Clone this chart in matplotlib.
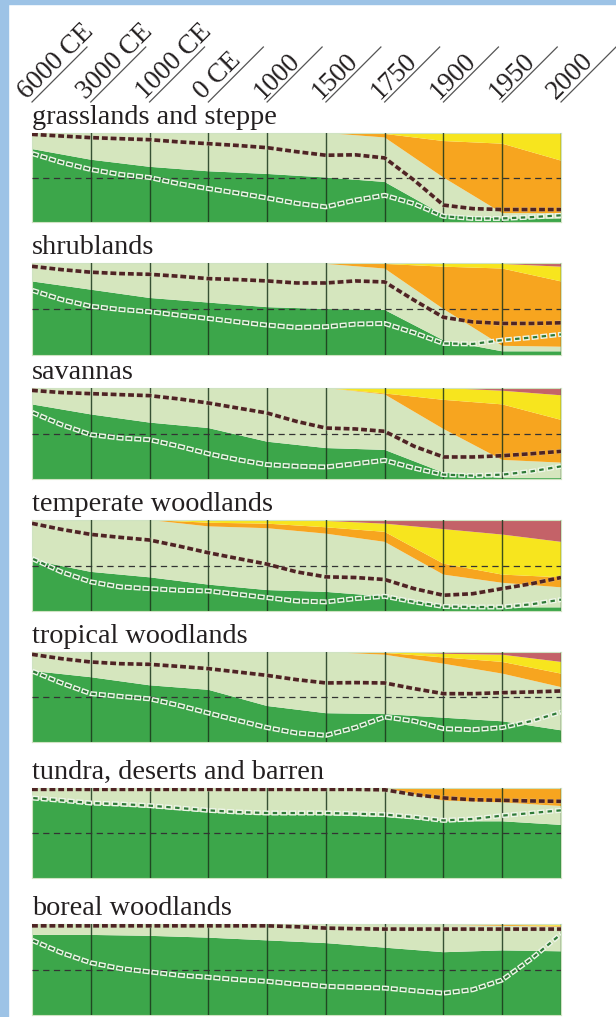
import numpy as np
import matplotlib.pyplot as plt
import matplotlib.transforms as mtransforms
import matplotlib.patheffects as pe
from matplotlib.patches import Rectangle

plt.rcParams['font.family'] = ['Liberation Serif', 'DejaVu Serif']
plt.rcParams['lines.scale_dashes'] = False

# time axis (equally spaced columns)
periods = ['6000 CE', '3000 CE', '1000 CE', '0 CE', '1000', '1500', '1750', '1900', '1950', '2000']
half_steps = np.arange(0, 9.01, 0.5)

biomes = ['grasslands and steppe', 'shrublands', 'savannas', 'temperate woodlands',
          'tropical woodlands', 'tundra, deserts and barren', 'boreal woodlands']

# area shares (% of biome), bottom to top
grass_dark = [82, 70, 62, 57, 54, 50, 45, 8, 4, 4]
grass_light = [18, 30, 38, 43, 46, 50, 50, 42, 6, 6]
grass_orange = [0, 0, 0, 0, 0, 0, 4, 41, 78, 59]
grass_yellow = [0, 0, 0, 0, 0, 0, 1, 9, 12, 30]
grass_mauve = [0, 0, 0, 0, 0, 0, 0, 0, 0, 1]

shrub_dark = [80, 71, 62, 57, 52, 50, 49, 16, 4, 4]
shrub_light = [19, 28, 37, 42, 47, 49, 45, 34, 6, 5]
shrub_orange = [0, 0, 0, 0, 0, 0, 5, 46, 84, 71]
shrub_yellow = [1, 1, 1, 1, 1, 1, 1, 4, 5, 16]
shrub_mauve = [0, 0, 0, 0, 0, 0, 0, 0, 1, 4]

sav_dark = [82, 71, 62, 56, 41, 34, 32, 7, 1, 1]
sav_light = [18, 29, 38, 44, 59, 66, 61, 48, 20, 17]
sav_orange = [0, 0, 0, 0, 0, 0, 1, 32, 61, 47]
sav_yellow = [0, 0, 0, 0, 0, 0, 6, 13, 15, 27]
sav_mauve = [0, 0, 0, 0, 0, 0, 0, 0, 3, 8]

temp_dark = [56, 43, 37, 29, 23, 21, 16, 5, 4, 4]
temp_light = [44, 57, 63, 64, 68, 64, 60, 35, 27, 22]
temp_orange = [0, 0, 0, 4, 5, 7, 11, 12, 9, 11]
temp_yellow = [0, 0, 0, 3, 4, 7, 9, 38, 44, 39]
temp_mauve = [0, 0, 0, 0, 0, 1, 4, 10, 16, 24]

trop_dark = [79, 72, 63, 58, 40, 32, 31, 27, 23, 13]
trop_light = [21, 28, 37, 42, 60, 68, 66, 60, 53, 48]
trop_orange = [0, 0, 0, 0, 0, 0, 2, 7, 13, 15]
trop_yellow = [0, 0, 0, 0, 0, 0, 1, 4, 8, 13]
trop_mauve = [0, 0, 0, 0, 0, 0, 0, 2, 3, 11]

tund_dark = [88, 82, 78, 73, 70, 70, 68, 63, 63, 59]
tund_light = [12, 18, 22, 27, 30, 30, 32, 23, 21, 21]
tund_orange = [0, 0, 0, 0, 0, 0, 0, 14, 16, 20]
tund_yellow = [0] * 10
tund_mauve = [0] * 10

bor_dark = [88, 88, 87, 85, 82, 79, 74, 69, 71, 70]
bor_light = [12, 12, 13, 15, 18, 21, 25, 30, 27, 27]
bor_orange = [0, 0, 0, 0, 0, 0, 0, 0.5, 1, 1]
bor_yellow = [0, 0, 0, 0, 0, 0, 1, 0.5, 1, 2]
bor_mauve = [0] * 10

# dashed lines (read every half column)
grass_upper = [98.5, 96.6, 94.8, 93.6, 92.5, 90, 88, 86, 83.5, 79, 75, 75.5, 72, 47, 19, 15, 14, 14, 14]
grass_lower = [77, 67, 59, 53.5, 50, 43, 37.5, 32.5, 27, 21, 17, 24.5, 30, 20.5, 6.5, 4, 4, 5.5, 7.5]
shrub_upper = [96.4, 92.8, 90, 88.5, 87.7, 85.6, 83, 82, 80.5, 78.3, 78.3, 80.5, 79.4, 59.6, 41, 36, 34.3, 34.3, 35]
shrub_lower = [70.4, 60.3, 53, 49.5, 47, 43.3, 39.7, 36, 32.5, 30, 30.7, 33.6, 34.3, 24.2, 12.6, 12, 16.2, 19, 22.4]
sav_upper = [97.4, 95, 93.8, 92.7, 91.6, 88, 83.5, 78, 72.5, 63.3, 56, 55, 52.4, 36, 24.2, 24.2, 25.6, 27.8, 30.4]
sav_lower = [73.3, 59.7, 48.7, 45, 43.2, 36, 27.8, 21.2, 15.8, 14, 13.2, 16.8, 20.5, 12, 4.8, 3.7, 4.8, 8.4, 13.9]
temp_upper = [96.3, 89.7, 84.2, 80.9, 78, 71.3, 64, 57.7, 51.5, 43, 37.5, 36.8, 34.6, 24.6, 17.3, 19, 24.6, 30, 36.8]
temp_lower = [57.7, 43, 32, 26.5, 24.6, 22.8, 22, 18.4, 14.7, 11, 10, 13.6, 16.2, 10, 5, 4.4, 4.4, 7.4, 12.5]
trop_upper = [97.4, 92.6, 88.9, 87, 86.3, 84, 81.5, 77.8, 74, 69.3, 65.6, 66, 65.6, 59.3, 53.7, 53.7, 54.8, 55.6, 56.7]
trop_lower = [78.9, 65.6, 53.7, 50.7, 48, 40.7, 32.2, 24, 16, 10, 7.4, 16, 27.8, 23.3, 14.8, 13.7, 16, 23.3, 33.3]
tund_upper = [98.5, 98.5, 98.5, 98.5, 98.5, 98.5, 98.5, 98.5, 98.5, 98.5, 98.5, 98.5, 98, 92.6, 89, 87, 86.3, 85.6, 85.2]
tund_lower = [88.9, 86.3, 83.3, 82.2, 80.4, 77.8, 75.2, 73.3, 72.2, 72.2, 72.2, 71.5, 70.4, 67.8, 64, 65.6, 69.3, 72.2, 75.2]
bor_upper = [98, 98, 98, 98, 98, 98, 98, 98, 98, 97, 95.5, 94.8, 94.4, 94.4, 94.4, 94.4, 94.4, 94.4, 94.4]
bor_lower = [82.2, 68.5, 57.4, 51.1, 47.4, 43.7, 41.5, 38.9, 37, 34, 31.5, 30.4, 29.6, 26.7, 24, 27.8, 38.5, 62, 89]

layers = [
    (grass_dark, grass_light, grass_orange, grass_yellow, grass_mauve),
    (shrub_dark, shrub_light, shrub_orange, shrub_yellow, shrub_mauve),
    (sav_dark, sav_light, sav_orange, sav_yellow, sav_mauve),
    (temp_dark, temp_light, temp_orange, temp_yellow, temp_mauve),
    (trop_dark, trop_light, trop_orange, trop_yellow, trop_mauve),
    (tund_dark, tund_light, tund_orange, tund_yellow, tund_mauve),
    (bor_dark, bor_light, bor_orange, bor_yellow, bor_mauve),
]
uppers = [grass_upper, shrub_upper, sav_upper, temp_upper, trop_upper, tund_upper, bor_upper]
lowers = [grass_lower, shrub_lower, sav_lower, temp_lower, trop_lower, tund_lower, bor_lower]

colors = ['#3ca64a', '#d5e6be', '#f7a51f', '#f7e51e', '#c46268']

W, H = 616, 1017
fig = plt.figure(figsize=(W / 100, H / 100), dpi=100)

# light blue page edge
fig.patches.append(Rectangle((0, 0), 8 / W, 1, transform=fig.transFigure, color='#9dc3e6', zorder=0))
fig.patches.append(Rectangle((0, 1 - 4 / H), 1, 4 / H, transform=fig.transFigure, color='#9dc3e6', zorder=0))

left, right = 32, 561
panel_px = [(133, 222), (263, 355), (388, 479), (520, 611), (652, 742), (788, 878), (924, 1015)]
x = np.arange(len(periods))

for k, (top, bot) in enumerate(panel_px):
    ax = fig.add_axes([left / W, 1 - bot / H, (right - left) / W, (bot - top) / H])
    ax.stackplot(x, *layers[k], colors=colors, linewidth=0)
    for xi in x[1:]:
        ax.axvline(xi, color='#1b361c', lw=1.0, alpha=0.85, zorder=3)
    ax.axhline(50, color='#333333', lw=0.9, linestyle=(0, (4.5, 3.2)), zorder=4)
    # hollow dashes: pale outline dash with a shorter green dash centred inside
    ax.plot(half_steps, lowers[k], color='#eef5e8', lw=3.6, linestyle=(0, (5.0, 1.4)),
            solid_capstyle='butt', zorder=5)
    ax.plot(half_steps, lowers[k], color='#2f7a38', lw=1.6, linestyle=(5.5, (3.2, 3.2)),
            zorder=5)
    ax.plot(half_steps, uppers[k], color='#4e2424', lw=2.6, linestyle=(0, (4.2, 2.1)),
            zorder=6,
            path_effects=[pe.Stroke(linewidth=3.3, foreground='#d9c9b8', alpha=0.6), pe.Normal()])
    ax.set_xlim(0, 9)
    ax.set_ylim(0, 100)
    ax.set_xticks([])
    ax.set_yticks([])
    for s in ax.spines.values():
        s.set_color('#cfe3c2')
        s.set_linewidth(0.8)
    fig.text(left / W, 1 - (top - 9) / H, biomes[k], fontsize=20.3, color='#231f20',
             ha='left', va='baseline')

# slanted period labels across the top
hdr_top, hdr_bot = 47, 102
hax = fig.add_axes([left / W, 1 - hdr_bot / H, (right - left) / W, (hdr_bot - hdr_top) / H])
hax.set_xlim(0, 9)
hax.set_ylim(0, 1)
hax.axis('off')
dx = 9 * (hdr_bot - hdr_top) / (right - left)
txt_tr = mtransforms.offset_copy(hax.transData, fig=fig, x=-5, y=2, units='dots')
for xi, lab in zip(x, periods):
    hax.plot([xi, xi + dx], [0, 1], color='#555555', lw=0.9, clip_on=False)
    hax.text(xi, 0, lab, transform=txt_tr, rotation=45, rotation_mode='anchor',
             ha='left', va='baseline', fontsize=19.5, color='#231f20')

fig.savefig('out.png', dpi=100)
